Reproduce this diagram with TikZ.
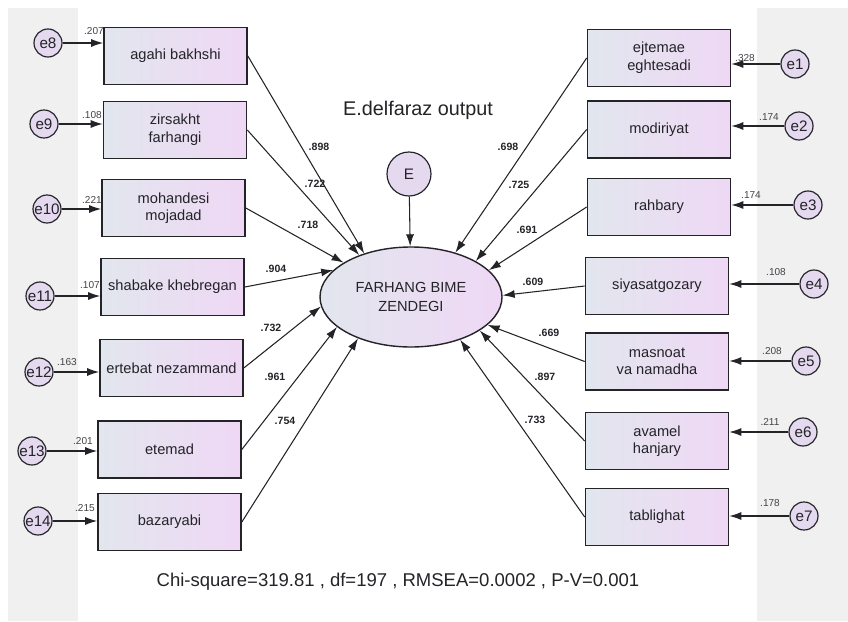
\documentclass[tikz,border=0pt]{standalone}
\usepackage{fontspec}
\setmainfont{Liberation Sans}
\usepackage{xcolor}
\usepackage{tikz}
\usetikzlibrary{arrows.meta,shapes.geometric,positioning}
\definecolor{boxleft}{RGB}{226,230,238}
\definecolor{boxright}{RGB}{239,216,245}
\definecolor{errfill}{RGB}{229,217,239}
\definecolor{stripgray}{RGB}{240,240,240}
\definecolor{ink}{RGB}{35,35,40}

\tikzset{
  obsbox/.style={draw=ink, line width=1.4pt, left color=boxleft, right color=boxright,
    minimum width=4.29cm, minimum height=1.71cm, inner sep=1pt, align=center,
    text=ink, font=\fontsize{12.5}{15}\selectfont},
  errcirc/.style={circle, draw=ink, line width=1pt, fill=errfill, minimum size=0.84cm,
    inner sep=0pt, text=ink, font=\fontsize{13}{13}\selectfont},
  pathline/.style={draw=ink, line width=0.9pt, -{Latex[length=3.6mm,width=2.4mm]}},
  coef/.style={text=ink, font=\bfseries\fontsize{9}{10}\selectfont},
  evar/.style={text=ink!85, font=\fontsize{8.6}{10}\selectfont}
}

\begin{document}
\begin{tikzpicture}[x=0.03cm, y=-0.03cm]
            \useasboundingbox (0,0) rectangle (848,621);
            % Side strips
            \fill[stripgray] (8,8) rectangle (78,621);
            \fill[stripgray] (757,8) rectangle (848,621);

            % Title and fit indices
            \node[text=ink, font=\fontsize{16.9}{18}\selectfont] (title) at (418,110) {E.delfaraz output};
            \node[text=ink, font=\fontsize{15.8}{18}\selectfont] (fit) at (398,582) {Chi-square=319.81 , df=197 , RMSEA=0.0002 , P-V=0.001};

            % Latent variable
            \node[ellipse, draw=ink, line width=1.2pt, left color=boxleft, right color=boxright,
                  minimum width=5.46cm, minimum height=3cm, inner sep=0pt, align=center,
                  text=ink, font=\fontsize{12.5}{16}\selectfont] (fbz) at (411,297) {FARHANG BIME\\ZENDEGI};
            \node[errcirc, minimum size=1.32cm] (E) at (409,174) {E};
            \draw[pathline] (E) -- (fbz);

            % Observed variables, left
            \node[obsbox] (b8) at (175.5,56) {agahi bakhshi};
            \node[obsbox] (b9) at (175,130) {zirsakht\\farhangi};
            \node[obsbox] (b10) at (173.5,208) {mohandesi\\mojadad};
            \node[obsbox] (b11) at (172.5,287) {shabake khebregan};
            \node[obsbox] (b12) at (171.5,368) {ertebat nezammand};
            \node[obsbox] (b13) at (169.5,449.5) {etemad};
            \node[obsbox] (b14) at (169.5,522) {bazaryabi};

            % Observed variables, right
            \node[obsbox] (b1) at (659,58) {ejtemae\\eghtesadi};
            \node[obsbox] (b2) at (659,129.5) {modiriyat};
            \node[obsbox] (b3) at (659,207) {rahbary};
            \node[obsbox] (b4) at (657,286) {siyasatgozary};
            \node[obsbox] (b5) at (657,361.5) {masnoat\\va namadha};
            \node[obsbox] (b6) at (657,441) {avamel\\hanjary};
            \node[obsbox] (b7) at (657,517) {tablighat};

            % Error terms
            \foreach \n/\x/\y in {8/48/43, 9/44/124, 10/47/209, 11/40/296, 12/39/372, 13/32/451, 14/38/521} {
                \node[errcirc] (e\n) at (\x,\y) {e\n};
                \draw[pathline] (e\n) -- (e\n -| b\n.west);
            }
            \foreach \n/\x/\y in {1/795/64, 2/799/126, 3/808/205, 4/814/284, 5/806/361, 6/803/432, 7/804/516} {
                \node[errcirc] (e\n) at (\x,\y) {e\n};
                \draw[pathline] (e\n) -- (e\n -| b\n.east);
            }

            % Paths to the latent variable
            \foreach \n/\a in {8/137, 9/141, 10/153, 11/161, 12/186, 13/202, 14/218}
                \draw[pathline] (b\n.east) -- (fbz.\a);
            \foreach \n/\a in {1/45, 2/29, 3/19, 4/1, 5/340, 6/334, 7/319}
                \draw[pathline] (b\n.west) -- (fbz.\a);

            % Loadings
            \foreach \n/\v/\x/\y in {8/.898/319/147, 9/.722/315/184, 10/.718/308/225, 11/.904/276/269,
                                     12/.732/271/328, 13/.961/275/377, 14/.754/285/421,
                                     1/.698/508/147, 2/.725/519/185, 3/.691/527/230, 4/.609/533/282,
                                     5/.669/549/333, 6/.897/545/377, 7/.733/535/420}
                \node[coef] (c\n) at (\x,\y) {\v};

            % Error variances
            \foreach \n/\v/\x/\y in {8/.207/94/31, 9/.108/92/115, 10/.221/92/200, 11/.107/90/285,
                                     12/.163/67/362, 13/.201/83/441, 14/.215/85/508,
                                     1/.328/745/58, 2/.174/769/117, 3/.174/751/195, 4/.108/776/272,
                                     5/.208/772/351, 6/.211/770/422, 7/.178/770/503}
                \node[evar] (v\n) at (\x,\y) {\v};
        \end{tikzpicture}
\end{document}
